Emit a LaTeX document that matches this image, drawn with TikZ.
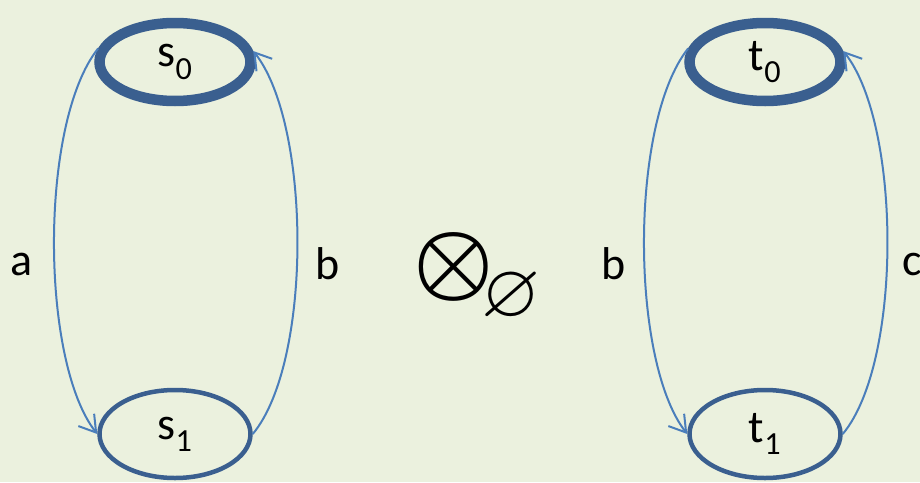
\documentclass[tikz,border=0pt]{standalone}
\usepackage{graphicx}
\usepackage{amssymb}
\usepackage{fontspec}
\setmainfont{Carlito}
\usetikzlibrary{arrows.meta,positioning,shapes.geometric}

\definecolor{bgcol}{HTML}{EBF1DE}
\definecolor{statecol}{HTML}{3A5F8F}
\definecolor{edgecol}{HTML}{4A7EBB}

\begin{document}
\begin{tikzpicture}[
  x=1pt,y=-1pt,
  every node/.style={font=\fontsize{46}{50}\selectfont,inner sep=0pt},
  state/.style={ellipse,draw=statecol,minimum width=151pt,minimum height=78pt},
  init/.style={state,line width=10.5pt},
  plain/.style={state,line width=4.5pt,minimum height=88pt},
  arr/.style={-{Straight Barb[length=16pt,width=20pt]},draw=edgecol,line width=2pt},
]
\fill[bgcol] (0,0) rectangle (920,482);
\useasboundingbox (0,0) rectangle (920,482);

% left automaton
\node[init] (s0) at (175,62) {s\textsubscript{0}};
\node[plain] (s1) at (175,434) {s\textsubscript{1}};
\draw[arr] (s0.170) .. controls +(-59,74) and +(-57,-73) .. (s1.180);
\draw[arr] (s1.0) .. controls +(60,-72) and +(58,73) .. (s0.8);
\node (la) at (22,264) {a};
\node (lb) at (328,264) {b};

% product symbol
\node[font=\normalsize] (prod) at (454,267)
  {\makebox[58pt]{\scalebox{9}{\boldmath$\otimes$}}\rlap{\smash{\hspace{-1.5pt}\raisebox{-10pt}{$\vcenter{\hbox{\scalebox{7.6}{$\varnothing$}}}$}}}};

% right automaton
\node[init] (t0) at (765,62) {t\textsubscript{0}};
\node[plain] (t1) at (765,434) {t\textsubscript{1}};
\draw[arr] (t0.170) .. controls +(-59,74) and +(-57,-73) .. (t1.180);
\draw[arr] (t1.0) .. controls +(60,-72) and +(58,73) .. (t0.8);
\node (rb) at (614,264) {b};
\node[anchor=west] (rc) at (902,264) {c};
\end{tikzpicture}
\end{document}
